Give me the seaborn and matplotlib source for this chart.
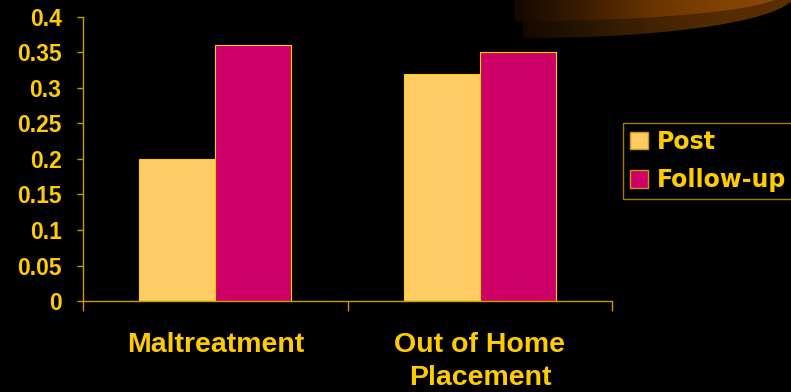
import numpy as np
import pandas as pd
import matplotlib
matplotlib.use("Agg")
import matplotlib.pyplot as plt
from matplotlib.patches import Ellipse, Patch
from matplotlib.colors import LinearSegmentedColormap
import seaborn as sns

categories = ["Maltreatment", "Out of Home\nPlacement"]
post = [0.20, 0.32]
follow_up = [0.36, 0.35]
series = ["Post", "Follow-up"]
yticks = [0, 0.05, 0.1, 0.15, 0.2, 0.25, 0.3, 0.35, 0.4]
ytick_labels = ["0", "0.05", "0.1", "0.15", "0.2", "0.25", "0.3", "0.35", "0.4"]

df = pd.DataFrame({
    "category": categories * 2,
    "value": post + follow_up,
    "series": [series[0]] * 2 + [series[1]] * 2,
})

gold = "#FFCC00"
axis_gold = "#CC9900"
colors = {"Post": "#FFCC66", "Follow-up": "#CC0066"}

sns.set_style("dark")
fig = plt.figure(figsize=(7.91, 3.92), dpi=100, facecolor="black")

# decorative gradient swoosh top right (pixel coords)
bg = fig.add_axes([0, 0, 1, 1], zorder=-5)
bg.set_facecolor("black")
grad = np.linspace(0, 1, 256).reshape(1, -1)
cm_low = LinearSegmentedColormap.from_list("low", ["#140800", "#2a1600", "#442300", "#552c00", "#5a2e00"])
cm_up = LinearSegmentedColormap.from_list("up", ["#140800", "#3a1d00", "#6a3500", "#824200", "#8a4a10"])
# lower, darker band
e1 = Ellipse((530, -6), 530, 88, facecolor="none", edgecolor="none")
bg.add_patch(e1)
im1 = bg.imshow(grad, cmap=cm_low, extent=[523, 791, 60, 0], aspect="auto", zorder=1)
im1.set_clip_path(e1)
# upper, brighter band
e2 = Ellipse((525, -8), 520, 58, facecolor="none", edgecolor="none")
bg.add_patch(e2)
im2 = bg.imshow(grad, cmap=cm_up, extent=[515, 791, 60, 0], aspect="auto", zorder=2)
im2.set_clip_path(e2)
bg.set_xlim(0, 791)
bg.set_ylim(392, 0)
bg.axis("off")

ax = fig.add_axes([0.105, 0.232, 0.669, 0.725])
ax.set_facecolor("none")
sns.barplot(data=df, x="category", y="value", hue="series", palette=colors,
            width=0.575, gap=0, edgecolor=gold, linewidth=0.8, saturation=1,
            ax=ax, legend=False)
ax.grid(False)
ax.set_xlim(-0.5, 1.5)
ax.set_ylim(0, 0.4)
ax.set_yticks(yticks)
ax.set_yticklabels(ytick_labels)
ax.set_xlabel("")
ax.set_ylabel("")
for s in ["top", "right"]:
    ax.spines[s].set_visible(False)
for s in ["left", "bottom"]:
    ax.spines[s].set_color(axis_gold)
    ax.spines[s].set_linewidth(1.0)
ax.tick_params(axis="y", left=True, colors=axis_gold, length=4.5, width=1, pad=11,
               labelcolor=gold, labelsize=16.5)
ax.tick_params(axis="x", which="major", bottom=True, length=0, pad=22,
               labelcolor=gold, labelsize=20.5)
ax.set_xticks([-0.5, 0.5, 1.5], minor=True)
ax.tick_params(axis="x", which="minor", bottom=True, colors=axis_gold, length=7, width=1)
for lbl in ax.get_yticklabels() + ax.get_xticklabels():
    lbl.set_fontweight("bold")
    lbl.set_family("Liberation Sans")
for lbl in ax.get_xticklabels():
    lbl.set_linespacing(1.35)

handles = [Patch(facecolor=colors[s], edgecolor=axis_gold, label=s) for s in series]
leg = fig.legend(handles=handles, loc="upper left", bbox_to_anchor=(623 / 791, 1 - 123 / 392),
                 frameon=True, fancybox=False, facecolor="black", edgecolor=axis_gold,
                 handlelength=0.75, handleheight=0.75, handletextpad=0.4,
                 borderpad=0.3, labelspacing=0.6, borderaxespad=0,
                 prop={"family": "DejaVu Sans", "weight": "bold", "size": 17})
leg.get_frame().set_linewidth(1.0)
for t in leg.get_texts():
    t.set_color(gold)

fig.savefig("out.png", dpi=100, facecolor="black")
